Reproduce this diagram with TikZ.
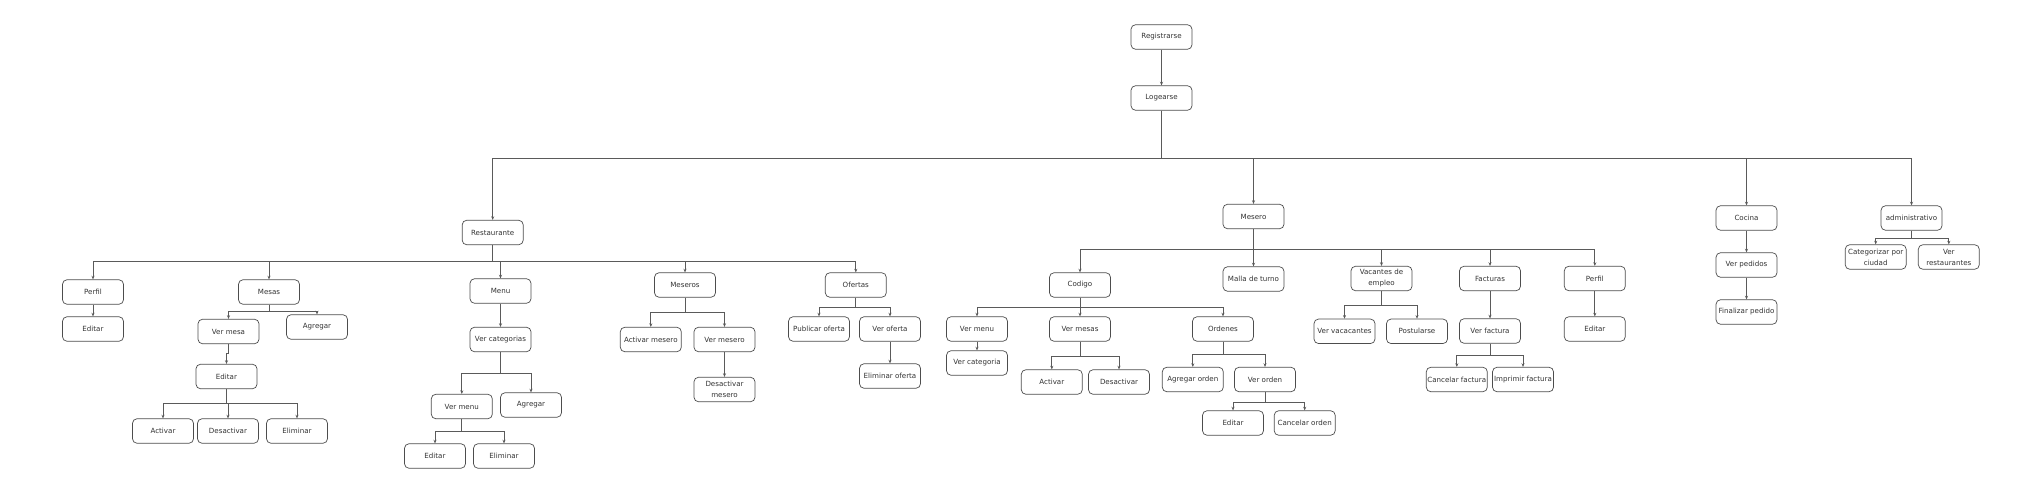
\documentclass[tikz,border=0pt]{standalone}
\usepackage{fontspec}
\setmainfont{DejaVu Sans}
\usetikzlibrary{arrows.meta}
\definecolor{boxline}{HTML}{4D4D4D}
\definecolor{txt}{HTML}{333333}
\definecolor{conncol}{HTML}{5A5A5A}
\tikzset{
  box/.style={draw=boxline, line width=0.7pt, rounded corners=4.5pt, minimum width=61pt, minimum height=24.5pt,
    inner sep=0pt, align=center, text=txt, font=\fontsize{7.1}{11}\selectfont},
  conn/.style={draw=conncol, line width=0.75pt, -{Stealth[length=3.6pt,width=3pt]}}
}
\newcommand\busedge[3]{\draw[conn] (#1.south) -- (#1.south |- 0,#3) -| (#2.north);}
\newcommand\sedge[2]{\draw[conn] (#1.south) -- (#2.north);}
\begin{document}
\begin{tikzpicture}[x=1pt,y=-1pt]
\fill[white] (0,0) rectangle (2018,495);
\useasboundingbox (0,0) rectangle (2018,495);
% top
\node[box] (reg) at (1161.5,37) {Registrarse};
\node[box] (log) at (1161.5,98) {Logearse};
% level 1
\node[box] (rest) at (492.7,232.5) {Restaurante};
\node[box] (mesero) at (1253.5,216.5) {Mesero};
\node[box] (cocina) at (1746.5,218) {Cocina};
\node[box] (admin) at (1911.5,218) {administrativo};
% Restaurante children
\node[box] (perfilR) at (93,292) {Perfil};
\node[box] (editarR) at (93,329) {Editar};
\node[box] (mesas) at (269,292) {Mesas};
\node[box] (vermesa) at (228.5,331.5) {Ver mesa};
\node[box] (agregarM) at (317,327) {Agregar};
\node[box] (editarM) at (226.5,376.5) {Editar};
\node[box] (activarM) at (163,431) {Activar};
\node[box] (desactM) at (228,431) {Desactivar};
\node[box] (elimM) at (297,431) {Eliminar};
\node[box] (menu) at (500.5,291) {Menu};
\node[box] (vercat) at (500.5,339.5) {Ver categorias};
\node[box] (vermenu) at (461.8,406.5) {Ver menu};
\node[box] (agregarMenu) at (531,405) {Agregar};
\node[box] (editarMenu) at (435,456) {Editar};
\node[box] (elimMenu) at (504,456) {Eliminar};
\node[box] (meseros) at (685,285) {Meseros};
\node[box] (actMesero) at (650.8,339.5) {Activar mesero};
\node[box] (verMesero) at (724.5,339.5) {Ver mesero};
\node[box] (desMesero) at (724.5,389.5) {Desactivar\\mesero};
\node[box] (ofertas) at (855.8,285) {Ofertas};
\node[box] (pubOferta) at (819,329) {Publicar oferta};
\node[box] (verOferta) at (890,329) {Ver oferta};
\node[box] (elimOferta) at (890,376) {Eliminar oferta};
% Mesero children
\node[box] (codigo) at (1080,285) {Codigo};
\node[box] (malla) at (1253.5,279) {Malla de turno};
\node[box] (vacantes) at (1381.5,278.5) {Vacantes de\\empleo};
\node[box] (facturas) at (1490,278.5) {Facturas};
\node[box] (perfilM) at (1594.8,278.5) {Perfil};
\node[box] (editarP) at (1594.8,329) {Editar};
\node[box] (vermenuC) at (977,329) {Ver menu};
\node[box] (vercatC) at (977,363) {Ver categoria};
\node[box] (vermesas) at (1080,329) {Ver mesas};
\node[box] (activarC) at (1051.8,382) {Activar};
\node[box] (desactC) at (1119,382) {Desactivar};
\node[box] (ordenes) at (1223,329) {Ordenes};
\node[box] (agrOrden) at (1192.8,379.5) {Agregar orden};
\node[box] (verOrden) at (1265,379.5) {Ver orden};
\node[box] (editarO) at (1233,423) {Editar};
\node[box] (cancOrden) at (1304.7,423) {Cancelar orden};
\node[box] (verVac) at (1344.5,331.3) {Ver vacacantes};
\node[box] (postular) at (1417,331.3) {Postularse};
\node[box] (verFact) at (1490,331) {Ver factura};
\node[box] (cancFact) at (1456.8,379.5) {Cancelar factura};
\node[box] (imprFact) at (1523,379.5) {Imprimir factura};
% Cocina
\node[box] (verPed) at (1746.5,265) {Ver pedidos};
\node[box] (finPed) at (1746.5,312) {Finalizar pedido};
% admin
\node[box] (categ) at (1875.7,257) {Categorizar por\\ciudad};
\node[box] (verRest) at (1948.8,257) {Ver\\restaurantes};
% edges
\sedge{reg}{log}
\busedge{log}{rest}{158}
\busedge{log}{mesero}{158}
\busedge{log}{cocina}{158}
\busedge{log}{admin}{158}
\busedge{rest}{perfilR}{261}
\busedge{rest}{mesas}{261}
\busedge{rest}{menu}{261}
\busedge{rest}{meseros}{261}
\busedge{rest}{ofertas}{261}
\sedge{perfilR}{editarR}
\busedge{mesas}{vermesa}{311}
\busedge{mesas}{agregarM}{311}
\busedge{vermesa}{editarM}{353}
\busedge{editarM}{activarM}{403}
\busedge{editarM}{desactM}{403}
\busedge{editarM}{elimM}{403}
\sedge{menu}{vercat}
\busedge{vercat}{vermenu}{373}
\busedge{vercat}{agregarMenu}{373}
\busedge{vermenu}{editarMenu}{431}
\busedge{vermenu}{elimMenu}{431}
\busedge{meseros}{actMesero}{312}
\busedge{meseros}{verMesero}{312}
\sedge{verMesero}{desMesero}
\busedge{ofertas}{pubOferta}{307}
\busedge{ofertas}{verOferta}{307}
\sedge{verOferta}{elimOferta}
\busedge{mesero}{codigo}{249}
\busedge{mesero}{malla}{249}
\busedge{mesero}{vacantes}{249}
\busedge{mesero}{facturas}{249}
\busedge{mesero}{perfilM}{249}
\busedge{codigo}{vermenuC}{307}
\busedge{codigo}{vermesas}{307}
\busedge{codigo}{ordenes}{307}
\sedge{vermenuC}{vercatC}
\busedge{vermesas}{activarC}{356}
\busedge{vermesas}{desactC}{356}
\busedge{ordenes}{agrOrden}{354}
\busedge{ordenes}{verOrden}{354}
\busedge{verOrden}{editarO}{402}
\busedge{verOrden}{cancOrden}{402}
\busedge{vacantes}{verVac}{305}
\busedge{vacantes}{postular}{305}
\sedge{facturas}{verFact}
\busedge{verFact}{cancFact}{355}
\busedge{verFact}{imprFact}{355}
\sedge{perfilM}{editarP}
\sedge{cocina}{verPed}
\sedge{verPed}{finPed}
\busedge{admin}{categ}{238}
\busedge{admin}{verRest}{238}
\end{tikzpicture}
\end{document}
